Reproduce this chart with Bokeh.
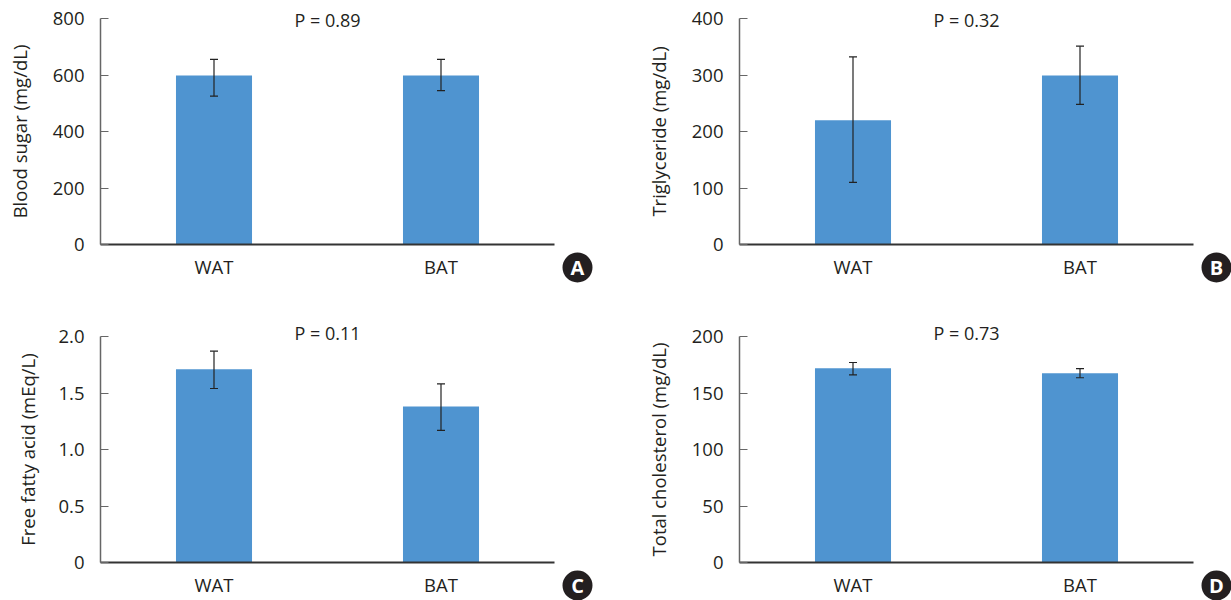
from bokeh.plotting import figure
from bokeh.layouts import gridplot
from bokeh.models import Label, BoxAnnotation, FixedTicker, Range1d, Whisker, ColumnDataSource
from bokeh.embed import file_html
from bokeh.resources import INLINE

categories = ["WAT", "BAT"]

a_title = "Blood sugar (mg/dL)"
a_values = [598, 598]
a_upper = [655, 655]
a_lower = [525, 545]
a_ticks = [0, 200, 400, 600, 800]
a_p = "P = 0.89"

b_title = "Triglyceride (mg/dL)"
b_values = [220, 299]
b_upper = [332, 351]
b_lower = [110, 248]
b_ticks = [0, 100, 200, 300, 400]
b_p = "P = 0.32"

c_title = "Free fatty acid (mEq/L)"
c_values = [1.71, 1.38]
c_upper = [1.87, 1.58]
c_lower = [1.54, 1.17]
c_ticks = [0, 0.5, 1.0, 1.5, 2.0]
c_tick_labels = {0: "0", 0.5: "0.5", 1: "1.0", 1.5: "1.5", 2: "2.0"}
c_p = "P = 0.11"

d_title = "Total cholesterol (mg/dL)"
d_values = [172, 167.5]
d_upper = [177, 171.5]
d_lower = [166, 163.5]
d_ticks = [0, 50, 100, 150, 200]
d_p = "P = 0.73"

FONT = "Open Sans"
INK = "#231f20"
BLUE = "#4f94d0"
PLOT_W = 454
PLOT_H = 226
UNIT = PLOT_W / len(categories)


def panel(title, values, upper, lower, ticks, ymax, ptext, letter, w, h, left, top, p_dy,
          overrides=None, label_standoff=18):
    # the frame fills the whole cell, so that the texts and the badge round the plot are not cut
    ppy = ymax / PLOT_H
    bottom = h - top - PLOT_H
    x_range = Range1d(-left / UNIT, (w - left) / UNIT)
    y_range = Range1d(-bottom * ppy, (PLOT_H + top) * ppy)
    p = figure(width=w, height=h, x_range=x_range, y_range=y_range,
               output_backend="svg", toolbar_location=None,
               min_border_left=0, min_border_right=0, min_border_top=0, min_border_bottom=0)
    xs = [i + 0.5 for i in range(len(categories))]
    src = ColumnDataSource(dict(x=xs, top=values, upper=upper, lower=lower))
    p.vbar(x="x", top="top", width=0.335, source=src, color=BLUE, line_color=None)
    wh = Whisker(base="x", upper="upper", lower="lower", source=src, line_color="#222222",
                 line_width=1.2, level="overlay")
    for head in (wh.upper_head, wh.lower_head):
        head.size = 8
        head.line_color = "#222222"
        head.line_width = 1.2
    p.add_layout(wh)

    p.grid.visible = False
    p.outline_line_color = None

    p.yaxis.fixed_location = 0
    p.yaxis.bounds = (0, ymax)
    p.yaxis.ticker = FixedTicker(ticks=ticks)
    if overrides:
        p.yaxis.major_label_overrides = overrides
    p.yaxis.axis_label = title
    p.yaxis.axis_label_text_font = FONT
    p.yaxis.axis_label_text_font_size = "18.5px"
    p.yaxis.axis_label_text_font_style = "normal"
    p.yaxis.axis_label_text_color = INK
    p.yaxis.axis_label_standoff = label_standoff
    p.yaxis.axis_line_color = "#666666"
    p.yaxis.axis_line_width = 1.5
    p.yaxis.major_tick_line_color = "#666666"
    p.yaxis.major_tick_line_width = 1.2
    p.yaxis.major_tick_in = 8
    p.yaxis.major_tick_out = 0
    p.yaxis.minor_tick_line_color = None
    p.yaxis.major_label_standoff = 16

    p.xaxis.fixed_location = 0
    p.xaxis.bounds = (0, len(categories))
    p.xaxis.ticker = FixedTicker(ticks=xs)
    p.xaxis.major_label_overrides = {x: c for x, c in zip(xs, categories)}
    p.xaxis.axis_line_color = "#333333"
    p.xaxis.axis_line_width = 1.8
    p.xaxis.major_tick_line_color = None
    p.xaxis.minor_tick_line_color = None
    p.xaxis.major_label_standoff = 3
    for ax in (p.xaxis, p.yaxis):
        ax.major_label_text_font = FONT
        ax.major_label_text_font_size = "18.5px"
        ax.major_label_text_color = INK

    p.add_layout(Label(x=len(categories) / 2, y=ymax, text=ptext, text_font=FONT,
                       text_font_size="18px", text_color=INK, text_align="center",
                       text_baseline="middle", y_offset=p_dy, level="overlay"))
    cx, cy = len(categories) + 23 / UNIT, -23 * ppy
    rx, ry = 15 / UNIT, 15 * ppy
    p.add_layout(BoxAnnotation(left=cx - rx, right=cx + rx, bottom=cy - ry, top=cy + ry,
                               fill_color=INK, fill_alpha=1, line_color=None, border_radius=15,
                               level="overlay"))
    p.add_layout(Label(x=cx, y=cy, text=letter, text_font=FONT, text_font_size="20px",
                       text_font_style="bold", text_color="white", text_align="center",
                       text_baseline="middle", level="overlay"))
    return p


# plot areas: left col x 100-554, right col x 739-1193; rows y 18-244, 336-562
pa = panel(a_title, a_values, a_upper, a_lower, a_ticks, 800, a_p, "A", 620, 300, 100, 18, -1)
pb = panel(b_title, b_values, b_upper, b_lower, b_ticks, 400, b_p, "B", 611, 300, 119, 18, -1)
pc = panel(c_title, c_values, c_upper, c_lower, c_ticks, 2.0, c_p, "C", 620, 300, 100, 36, 4,
           overrides=c_tick_labels, label_standoff=15)
pd = panel(d_title, d_values, d_upper, d_lower, d_ticks, 200, d_p, "D", 611, 300, 119, 36, 4)

grid = gridplot([[pa, pb], [pc, pd]], toolbar_location=None)
open("out.html", "w").write(file_html(grid, INLINE))
